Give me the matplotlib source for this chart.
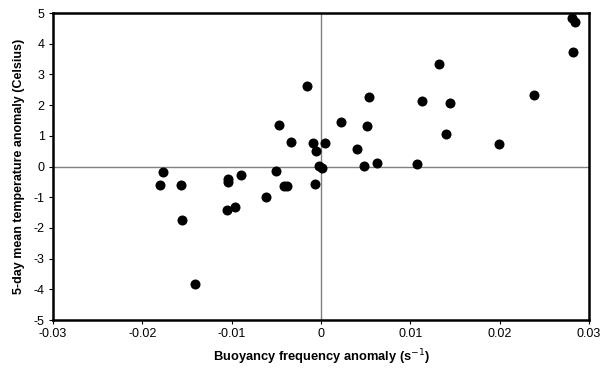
import matplotlib
matplotlib.use("Agg")
import matplotlib.pyplot as plt

plt.rcParams['font.family'] = ['Liberation Sans', 'DejaVu Sans']
plt.rcParams['axes.unicode_minus'] = False

buoyancy = [-0.0016, -0.0047, -0.0034, -0.0009, 0.0004, -0.0006, -0.0177, -0.0104,
            -0.0104, -0.0090, -0.0050, -0.0002, 0.0001, 0.0281, 0.0284, 0.0282,
            0.0132, 0.0054, 0.0113, 0.0144, 0.0238, 0.0022, 0.0052, 0.0140,
            0.0040, 0.0199, 0.0063, 0.0048, 0.0108, -0.0180, -0.0157, -0.0062,
            -0.0041, -0.0038, -0.0007, -0.0156, -0.0105, -0.0096, -0.0141]
temperature = [2.62, 1.35, 0.79, 0.77, 0.76, 0.52, -0.17, -0.40,
               -0.50, -0.29, -0.16, 0.02, -0.06, 4.85, 4.70, 3.74,
               3.34, 2.28, 2.13, 2.08, 2.33, 1.46, 1.32, 1.06,
               0.58, 0.74, 0.11, 0.01, 0.08, -0.61, -0.60, -0.98,
               -0.65, -0.65, -0.57, -1.73, -1.42, -1.33, -3.81]

x_ticks = [-0.03, -0.02, -0.01, 0, 0.01, 0.02, 0.03]
x_labels = ['-0.03', '-0.02', '-0.01', '0', '0.01', '0.02', '0.03']
y_ticks = [-5, -4, -3, -2, -1, 0, 1, 2, 3, 4, 5]

fig = plt.figure(figsize=(6.04, 3.77), dpi=100)
ax = fig.add_axes([0.0877, 0.151, 0.8873, 0.8145])

ax.axhline(0, color='#808080', lw=1, zorder=1)
ax.axvline(0, color='#808080', lw=1, zorder=1)
ax.scatter(buoyancy, temperature, s=52, color='black', zorder=3, linewidths=0)

ax.set_xlim(-0.03, 0.03)
ax.set_ylim(-5, 5)
ax.set_xticks(x_ticks)
ax.set_xticklabels(x_labels)
ax.set_yticks(y_ticks)
ax.tick_params(direction='out', length=3, width=0.8, labelsize=9, pad=3)
for s in ax.spines.values():
    s.set_linewidth(1.8)

ax.set_xlabel('Buoyancy frequency anomaly (s$^{-1}$)', fontsize=9.3, fontweight='bold', labelpad=5)
ax.set_ylabel('5-day mean temperature anomaly (Celsius)', fontsize=9, fontweight='bold', labelpad=6)

fig.savefig('out.png', dpi=100)
